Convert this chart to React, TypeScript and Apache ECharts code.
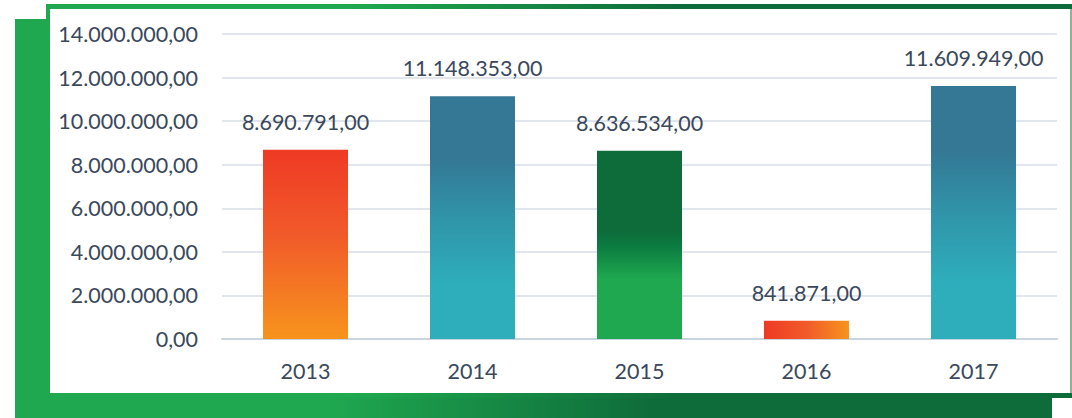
import React, { useEffect, useRef } from "react";
import * as echarts from "echarts";

const categories = ["2013", "2014", "2015", "2016", "2017"];
const values = [8690791, 11148353, 8636534, 841871, 11609949];
const yTicks = [0, 2000000, 4000000, 6000000, 8000000, 10000000, 12000000, 14000000];

const fmt = (v: number) => {
  const fixed = Math.abs(v).toFixed(2);
  const [intPart, dec] = fixed.split(".");
  const withDots = intPart.replace(/\B(?=(\d{3})+(?!\d))/g, ".");
  return (v < 0 ? "-" : "") + withDots + "," + dec;
};

const TEXT = "#3a485c";
const FONT = "Lato";
const FS = 21.5;

export default function App() {
  const ref = useRef<HTMLDivElement>(null);
  useEffect(() => {
    if (!ref.current) return;
    const chart = echarts.init(ref.current, undefined, { renderer: "svg" });
    const G = echarts.graphic.LinearGradient;
    const redOrangeV = new G(0, 0, 0, 1, [
      { offset: 0, color: "#ee3a24" },
      { offset: 0.45, color: "#f15a2a" },
      { offset: 1, color: "#f7941d" },
    ]);
    const blueTeal = new G(0, 0, 0, 1, [
      { offset: 0, color: "#347896" },
      { offset: 0.26, color: "#347896" },
      { offset: 0.5, color: "#3094a8" },
      { offset: 0.78, color: "#2eaebb" },
      { offset: 1, color: "#2eaebb" },
    ]);
    const greens = new G(0, 0, 0, 1, [
      { offset: 0, color: "#0e6b3a" },
      { offset: 0.42, color: "#0e6b3a" },
      { offset: 0.5, color: "#0b7a40" },
      { offset: 0.68, color: "#1fa84f" },
      { offset: 1, color: "#1fa84f" },
    ]);
    const redOrangeH = new G(0, 0, 1, 0, [
      { offset: 0, color: "#ee3a24" },
      { offset: 0.5, color: "#f15a2a" },
      { offset: 1, color: "#f7941d" },
    ]);
    const barColors = [redOrangeV, blueTeal, greens, redOrangeH, blueTeal];
    const frameGrad = () =>
      new G(0, 0, 1, 0, [
        { offset: 0, color: "#1fa84f" },
        { offset: 0.3, color: "#1fa84f" },
        { offset: 0.62, color: "#0e6b3a" },
        { offset: 1, color: "#0e6b3a" },
      ]);

    chart.setOption({
      animation: false,
      graphic: [
        { type: "rect", z: -30, shape: { x: 15, y: 19, width: 1037, height: 399 }, style: { fill: frameGrad() } },
        { type: "rect", z: -29, shape: { x: 46, y: 4, width: 1026, height: 394 }, style: { fill: frameGrad() } },
        { type: "rect", z: -27, shape: { x: 50, y: 9, width: 1020, height: 384 }, style: { fill: "#ffffff" } },
        { type: "rect", z: -26, shape: { x: 1070, y: 9, width: 2, height: 384 }, style: { fill: "#8fb39a" } },
      ],
      grid: { left: 222, right: 15, top: 34, bottom: 79 },
      xAxis: {
        type: "category",
        data: categories,
        axisTick: { show: false },
        axisLine: { show: true, lineStyle: { color: "#c9d4e0", width: 2 } },
        axisLabel: { color: TEXT, fontFamily: FONT, fontSize: FS, margin: 21 },
      },
      yAxis: {
        type: "value",
        min: yTicks[0],
        max: yTicks[yTicks.length - 1],
        interval: 2000000,
        axisLine: { show: false },
        axisTick: { show: false },
        splitLine: { lineStyle: { color: "#e1e6ee", width: 2 } },
        axisLabel: { color: TEXT, fontFamily: FONT, fontSize: FS, margin: 24, formatter: (v: number) => fmt(v) },
      },
      series: [
        {
          type: "bar",
          barWidth: 85,
          data: values.map((v, i) => ({ value: v, itemStyle: { color: barColors[i] } })),
          label: {
            show: true,
            position: "top",
            distance: 17,
            color: TEXT,
            fontFamily: FONT,
            fontSize: FS,
            formatter: (p: any) => fmt(p.value),
          },
        },
      ],
    });
    return () => chart.dispose();
  }, []);
  return <div ref={ref} style={{ position: "absolute", left: 0, top: 0, width: 1072, height: 418 }} />;
}
